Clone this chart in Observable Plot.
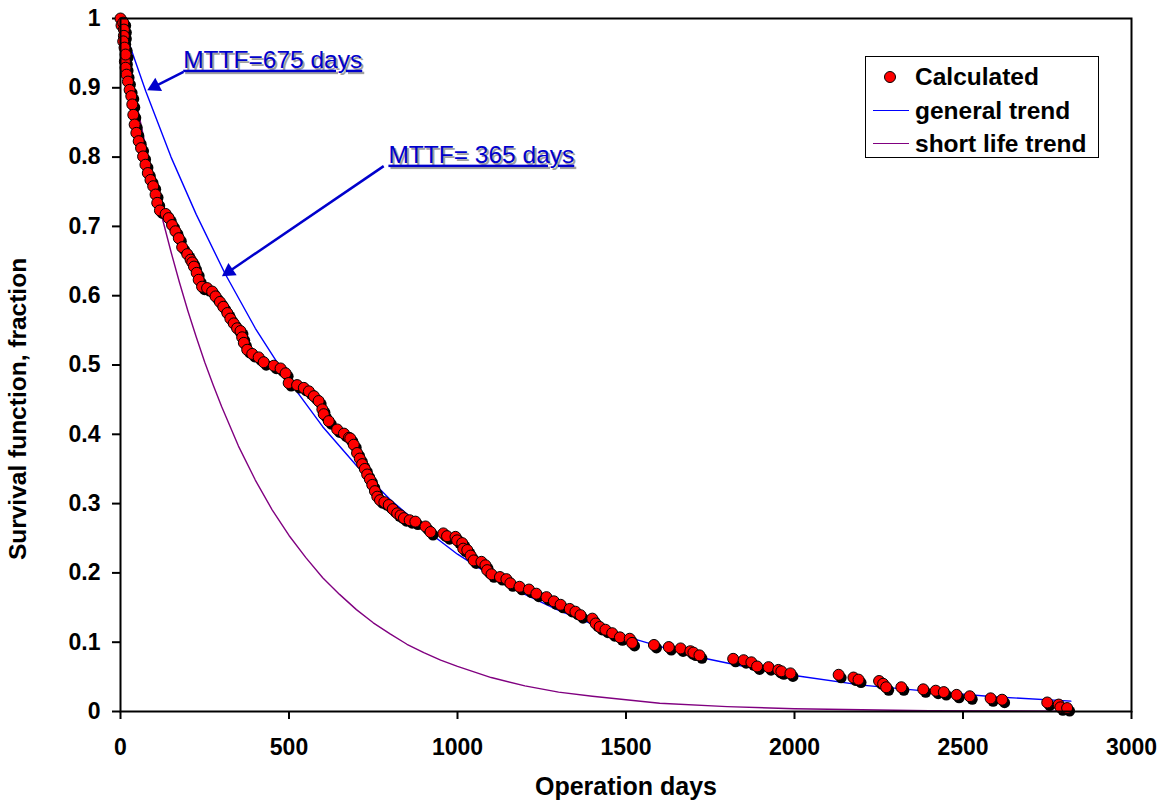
<!DOCTYPE html>
<html><head><meta charset="utf-8">
<script src="https://cdn.jsdelivr.net/npm/d3@7"></script>
<script src="https://cdn.jsdelivr.net/npm/@observablehq/plot@0.6"></script>
<style>
body{margin:0;background:#fff;font-family:"Liberation Sans",Arial,sans-serif}
#wrap{position:relative;width:1169px;height:802px}
#legend{position:absolute;left:865px;top:56px;width:232px;height:100px;border:1px solid #000;background:#fff;font-weight:bold;font-size:24.5px;color:#000}
.lab{position:absolute;left:49px;line-height:28px;height:28px;white-space:nowrap}
.sw{position:absolute;left:7px;width:36px;height:0;border-top:1.5px solid}
.dot{position:absolute;left:18px;width:10px;height:10px;border-radius:50%;background:#ff0000;border:1px solid #000}
</style></head>
<body><div id="wrap"></div>
<script>
// Calculated survival (operation days, fraction)
const calcDays = [0,3,8,10,10,8,12,13,15,15,18,22,27,32,35,38,42,47,54,61,67,74,81,89,97,104,109,117,134,143,153,163,173,183,198,208,213,218,226,232,242,257,272,282,295,305,317,326,336,346,356,361,366,376,391,410,425,455,475,490,499,524,544,559,574,588,599,603,618,643,663,678,682,692,702,710,717,725,732,740,747,755,762,770,783,796,808,821,831,841,858,875,905,920,958,969,994,999,1014,1017,1029,1039,1048,1071,1083,1088,1101,1126,1145,1157,1184,1212,1234,1264,1286,1306,1333,1350,1365,1400,1410,1422,1439,1459,1482,1511,1518,1583,1627,1662,1691,1700,1718,1818,1849,1872,1889,1923,1952,1961,1988,2131,2175,2190,2251,2263,2272,2317,2382,2419,2443,2481,2520,2582,2616,2750,2784,2789,2809];
const calcSurv = [1.0,0.99,0.994,0.984,0.975,0.967,0.958,0.938,0.948,0.929,0.919,0.909,0.897,0.888,0.876,0.861,0.847,0.835,0.823,0.813,0.801,0.789,0.777,0.767,0.758,0.746,0.734,0.723,0.718,0.712,0.702,0.693,0.683,0.67,0.66,0.652,0.648,0.642,0.633,0.623,0.613,0.611,0.606,0.599,0.591,0.584,0.575,0.567,0.560,0.553,0.549,0.540,0.532,0.522,0.516,0.511,0.504,0.499,0.495,0.488,0.474,0.471,0.467,0.462,0.455,0.448,0.436,0.429,0.419,0.407,0.401,0.395,0.394,0.385,0.373,0.365,0.357,0.35,0.342,0.335,0.327,0.318,0.310,0.305,0.302,0.298,0.292,0.286,0.283,0.279,0.276,0.274,0.267,0.259,0.257,0.253,0.252,0.247,0.243,0.235,0.233,0.225,0.218,0.216,0.211,0.204,0.198,0.194,0.191,0.185,0.180,0.176,0.170,0.165,0.159,0.154,0.148,0.144,0.139,0.134,0.127,0.122,0.118,0.113,0.107,0.105,0.099,0.096,0.093,0.091,0.087,0.085,0.081,0.076,0.074,0.071,0.065,0.064,0.060,0.058,0.055,0.053,0.049,0.046,0.044,0.040,0.035,0.035,0.032,0.030,0.028,0.024,0.022,0.019,0.017,0.013,0.010,0.006,0.005];

// General trend (blue)
const trendDays = [24,75,150,225,310,400,500,600,700,800,900,1000,1100,1200,1300,1400,1500,1600,1700,1800,1900,2000,2200,2400,2600,2820];
const generalTrend = [0.966,0.895,0.80,0.717,0.632,0.553,0.477,0.411,0.355,0.306,0.264,0.227,0.196,0.169,0.146,0.126,0.108,0.094,0.080,0.070,0.060,0.052,0.038,0.029,0.021,0.015];

// Short life trend (purple)
const shortDays = [0,25,50,75,100,125,150,175,200,225,250,275,300,350,400,450,500,550,600,650,700,750,800,850,900,950,1000,1100,1200,1300,1400,1600,1800,2000,2400,2810];
const shortTrend = [1.0,0.934,0.872,0.814,0.76,0.71,0.663,0.619,0.578,0.54,0.504,0.471,0.44,0.383,0.334,0.291,0.254,0.222,0.193,0.169,0.147,0.128,0.112,0.097,0.085,0.074,0.065,0.049,0.037,0.028,0.022,0.012,0.007,0.004,0.001,0.0005];

const xTicks = [0,500,1000,1500,2000,2500,3000];
const yTicks = [0,0.1,0.2,0.3,0.4,0.5,0.6,0.7,0.8,0.9,1];

// Annotations (data units)
const annText = ["MTTF=675 days","MTTF= 365 days"];
const annX = [186,795];
const annY = [0.929,0.792];
const arrowX1 = [187,781], arrowY1 = [0.923,0.787];
const arrowX2 = [102,322], arrowY2 = [0.902,0.635];
const arrowRotate = [243,236];

const calc = calcDays.map((t,i)=>({t, v: calcSurv[i]}));
const gen = trendDays.map((t,i)=>({t, v: generalTrend[i]}));
const shortL = shortDays.map((t,i)=>({t, v: shortTrend[i]}));
const ann = annText.map((s,i)=>({s, x: annX[i], y: annY[i]}));
const arr = arrowX1.map((x,i)=>({x1:x, y1:arrowY1[i], x2:arrowX2[i], y2:arrowY2[i], rot:arrowRotate[i]}));

const font = '"Liberation Sans", Arial, sans-serif';
const chart = Plot.plot({
  width:1169, height:802,
  marginLeft:120, marginRight:38, marginTop:18, marginBottom:91,
  x:{domain:[0,3000]}, y:{domain:[0,1]},
  style:{fontFamily:font, background:"white", overflow:"visible", color:"#000"},
  marks:[
    Plot.axisX({ticks:xTicks, tickFormat:d=>String(d), tickSize:8, tickPadding:19, fontSize:23, fontWeight:"bold", label:null, strokeWidth:2}),
    Plot.axisY({ticks:yTicks, tickFormat:d=>String(+d.toFixed(1)), tickSize:8, tickPadding:12, fontSize:23, fontWeight:"bold", label:null, strokeWidth:2}),
    Plot.text(["Operation days"], {frameAnchor:"bottom", dy:75, lineAnchor:"middle", fontSize:25, fontWeight:"bold"}),
    Plot.text(["Survival function, fraction"], {frameAnchor:"left", textAnchor:"middle", dx:-102, dy:44, rotate:-90, lineAnchor:"middle", fontSize:24.5, fontWeight:"bold"}),
    Plot.line(shortL, {x:"t", y:"v", stroke:"#800080", strokeWidth:1.4}),
    Plot.line(gen, {x:"t", y:"v", stroke:"#0000ff", strokeWidth:1.4}),
    Plot.dot(calc, {x:"t", y:"v", r:5.5, fill:"#000", dx:2.5, dy:3}),
    Plot.dot(calc, {x:"t", y:"v", r:5.5, fill:"#ff0000", stroke:"#000", strokeWidth:1}),
    Plot.frame({stroke:"#000", strokeWidth:2}),
    Plot.link(arr, {x1:"x1", y1:"y1", x2:"x2", y2:"y2", stroke:"#0000cc", strokeWidth:2.5}),
    Plot.dot(arr, {x:"x2", y:"y2", symbol:"triangle", r:5.5, fill:"#0000cc", rotate:"rot"}),
    Plot.text(ann, {x:"x", y:"y", text:"s", textAnchor:"start", lineAnchor:"bottom", fontSize:24.5, fill:"#a0a0a0", dx:2, dy:2}),
    Plot.text(ann, {x:"x", y:"y", text:"s", textAnchor:"start", lineAnchor:"bottom", fontSize:24.5, fill:"#0000cc"})
  ]
});
d3.select(chart).selectAll("text").filter(function(){return this.textContent.startsWith("MTTF");}).style("text-decoration","underline");
const wrap = document.getElementById("wrap");
wrap.appendChild(chart);

// Legend
const legend = document.createElement("div");
legend.id = "legend";
legend.innerHTML = `
  <div class="dot" style="top:14px"></div><div class="lab" style="top:6px">Calculated</div>
  <div class="sw" style="top:53px;border-color:#0000ff"></div><div class="lab" style="top:40px">general trend</div>
  <div class="sw" style="top:86px;border-color:#800080"></div><div class="lab" style="top:73px">short life trend</div>`;
wrap.appendChild(legend);
</script>
</body></html>
